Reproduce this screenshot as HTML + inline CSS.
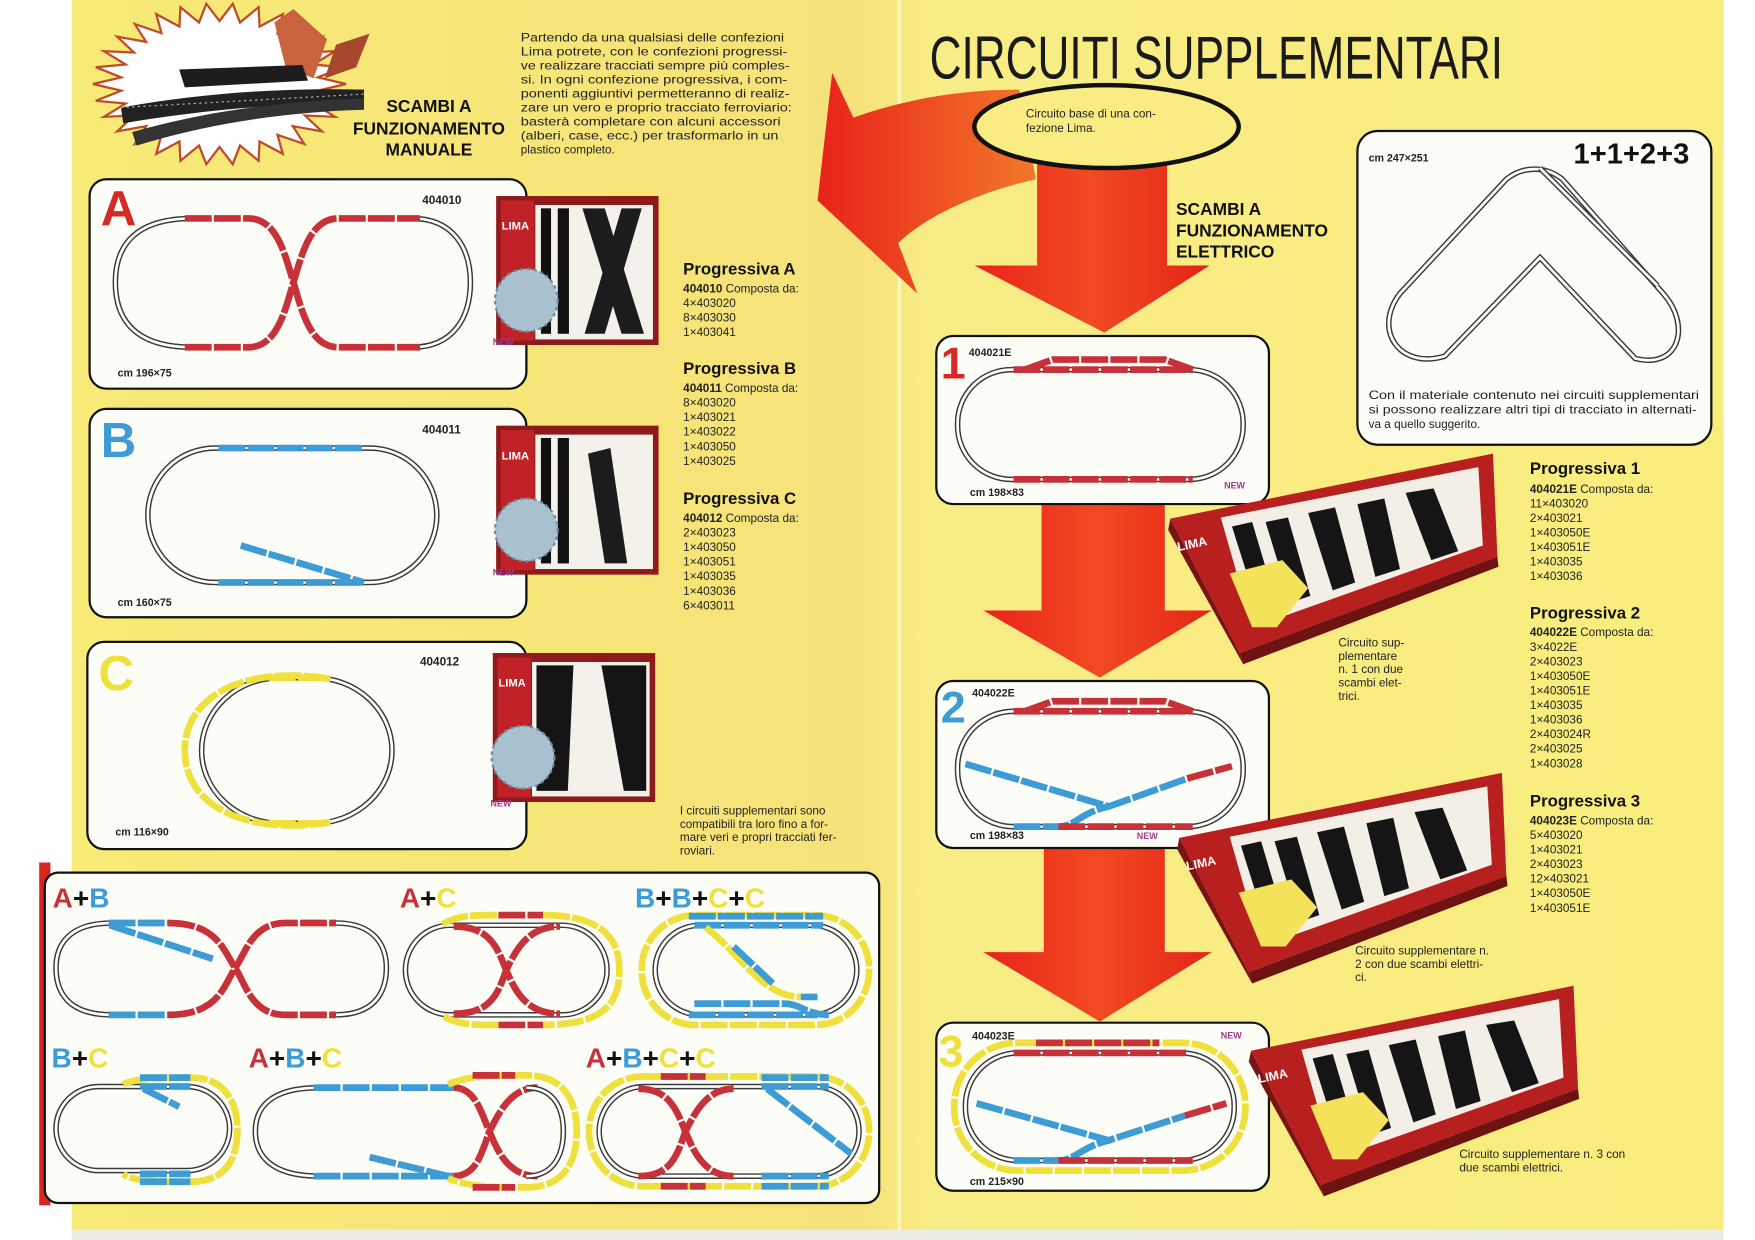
<!DOCTYPE html>
<html><head><meta charset="utf-8">
<style>
html,body{margin:0;padding:0;background:#fff;}
svg{display:block;font-family:"Liberation Sans",sans-serif;}
.g{fill:none;stroke:#3a3a3a;stroke-width:5}
.w{fill:none;stroke:#fff;stroke-width:2.4}
.r{fill:none;stroke:#c7323a;stroke-width:6;stroke-dasharray:24 2}
.b{fill:none;stroke:#3d9bd6;stroke-width:6;stroke-dasharray:24 2}
.y{fill:none;stroke:#efe03c;stroke-width:6;stroke-dasharray:24 2}
.t{font-size:10.5px;fill:#222}
.bo{font-weight:bold}
.box{fill:#fdfdf8;stroke:#111;stroke-width:2}
</style></head><body>
<svg width="1755" height="1240" viewBox="0 0 1567 1107" preserveAspectRatio="none" xmlns="http://www.w3.org/2000/svg">
<defs>
<linearGradient id="yb" x1="0" x2="1" y1="0" y2="0">
<stop offset="0" stop-color="#f7ea76"/><stop offset="0.48" stop-color="#f6e27a"/><stop offset="0.52" stop-color="#f8ec86"/><stop offset="1" stop-color="#f8ed7c"/></linearGradient>
<linearGradient id="ar" x1="0" x2="1" y1="0" y2="0"><stop offset="0" stop-color="#e9231a"/><stop offset="0.5" stop-color="#f14a22"/><stop offset="1" stop-color="#e42418"/></linearGradient>
<linearGradient id="ca" x1="0" x2="1" y1="0" y2="0"><stop offset="0" stop-color="#e8221a"/><stop offset="1" stop-color="#f2782a"/></linearGradient>
<g id="rbx">
<polygon points="1045,463 1333,405 1337,497 1107,583" fill="#b8201f"/>
<polygon points="1107,583 1337,497 1338,506 1110,593" fill="#6e1212"/>
<polygon points="1045,463 1107,583 1110,593 1043,473" fill="#7a1414"/>
<polygon points="1090,462 1320,417 1324,487 1118,560" fill="#f3efe6"/>
<path d="M1100,470 L1118,466 L1140,540 L1124,546 Z M1130,466 L1150,462 L1170,532 L1152,538 Z M1168,458 L1192,453 L1210,520 L1190,527 Z M1212,450 L1236,445 L1250,508 L1228,515 Z M1255,440 L1280,436 L1302,492 L1278,500 Z" fill="#151515"/>
<polygon points="1098,512 1145,500 1168,525 1140,560 1118,560" fill="#f4e25a"/>
<text x="1052" y="492" font-size="11" class="bo" fill="#fff" transform="rotate(-12 1052 492)">LIMA</text>
</g>
</defs>
<rect x="0" y="0" width="1567" height="1107" fill="#fff"/>
<rect x="64" y="0" width="1475" height="1098" fill="url(#yb)"/>
<rect x="64" y="1098" width="1475" height="9" fill="#ecebe4"/>
<line x1="803" y1="0" x2="803" y2="1098" stroke="#fff6b8" stroke-width="3"/>

<polygon id="star" points="" fill="#fff" stroke="#c04a2a" stroke-width="2"/>
<g>
<path d="M292,35 L262,8 L245,20 L255,60 L280,70 Z" fill="#c9623e"/>
<path d="M300,40 L330,30 L318,60 L290,70 Z" fill="#a7472c"/>
<path d="M160,62 L270,58 L275,72 L165,78 Z" fill="#1d1d1d"/>
<path d="M108,96 C170,85 240,78 325,80 L325,92 C240,92 170,100 110,110 Z" fill="#222"/>
<path d="M118,118 C180,100 250,90 325,88 L325,98 C250,100 180,112 122,130 Z" fill="#333"/>
<path d="M108,96 L325,84" stroke="#bbb" stroke-width="1" stroke-dasharray="2 3"/>
</g>
<text x="383" y="100" text-anchor="middle" font-size="15.5" class="bo" fill="#111">SCAMBI A</text>
<text x="383" y="120" text-anchor="middle" font-size="15.5" class="bo" fill="#111">FUNZIONAMENTO</text>
<text x="383" y="139" text-anchor="middle" font-size="15.5" class="bo" fill="#111">MANUALE</text>
<g class="t" font-size="10.5">
<text x="465" y="37" textLength="235" lengthAdjust="spacingAndGlyphs">Partendo da una qualsiasi delle confezioni</text>
<text x="465" y="49.5" textLength="238" lengthAdjust="spacingAndGlyphs">Lima potrete, con le confezioni progressi-</text>
<text x="465" y="62" textLength="240" lengthAdjust="spacingAndGlyphs">ve realizzare tracciati sempre più comples-</text>
<text x="465" y="74.5" textLength="238" lengthAdjust="spacingAndGlyphs">si. In ogni confezione progressiva, i com-</text>
<text x="465" y="87" textLength="240" lengthAdjust="spacingAndGlyphs">ponenti aggiuntivi permetteranno di realiz-</text>
<text x="465" y="99.5" textLength="242" lengthAdjust="spacingAndGlyphs">zare un vero e proprio tracciato ferroviario:</text>
<text x="465" y="112" textLength="232" lengthAdjust="spacingAndGlyphs">basterà completare con alcuni accessori</text>
<text x="465" y="124.5" textLength="230" lengthAdjust="spacingAndGlyphs">(alberi, case, ecc.) per trasformarlo in un</text>
<text x="465" y="137">plastico completo.</text>
</g>

<path d="M762,105 C810,88 860,80 910,80 L925,160 C880,170 830,190 802,217 L819,262 L730,179 L743,65 Z" fill="url(#ca)"/>

<text x="830" y="70" font-size="54" fill="#1a1a1a" textLength="512" lengthAdjust="spacingAndGlyphs">CIRCUITI SUPPLEMENTARI</text>

<polygon points="926,140 1042,140 1042,237 1080,237 986,297 870,237 926,237" fill="url(#ar)"/>
<polygon points="930,450 1040,450 1040,545 1082,545 982,605 878,545 930,545" fill="url(#ar)"/>
<polygon points="932,757 1040,757 1040,850 1082,850 982,912 878,850 932,850" fill="url(#ar)"/>
<ellipse cx="988" cy="113" rx="118" ry="37" fill="#f8ec82" stroke="#111" stroke-width="4"/>
<text x="916" y="105" class="t" font-size="10">Circuito base di una con-</text>
<text x="916" y="118" class="t" font-size="10">fezione Lima.</text>
<text x="1050" y="192" font-size="15.5" class="bo" fill="#111">SCAMBI A</text>
<text x="1050" y="211" font-size="15.5" class="bo" fill="#111">FUNZIONAMENTO</text>
<text x="1050" y="230" font-size="15.5" class="bo" fill="#111">ELETTRICO</text>

<!-- BOX A -->
<rect x="80" y="160" width="390" height="187" rx="15" class="box"/>
<text x="90" y="201" font-size="44" class="bo" fill="#d52a25">A</text>
<text x="377" y="182" font-size="10.5" class="bo" fill="#222">404010</text>
<text x="105" y="336" font-size="9.5" class="bo" fill="#222">cm 196×75</text>
<path class="g" d="M172,195 C118,195 103,222 103,252 C103,283 118,310 172,310"/>
<path class="w" d="M172,195 C118,195 103,222 103,252 C103,283 118,310 172,310"/>
<path class="g" d="M368,195 C405,195 420,222 420,252 C420,283 405,310 368,310"/>
<path class="w" d="M368,195 C405,195 420,222 420,252 C420,283 405,310 368,310"/>
<path class="r" d="M165,195 H222 C248,195 255,230 262,252 C269,275 276,310 302,310 H375"/>
<path class="r" d="M165,310 H222 C248,310 255,275 262,252 C269,230 276,195 302,195 H375"/>

<!-- BOX B -->
<rect x="80" y="365" width="390" height="186" rx="15" class="box"/>
<text x="90" y="408" font-size="44" class="bo" fill="#3d9bd6">B</text>
<text x="377" y="387" font-size="10.5" class="bo" fill="#222">404011</text>
<text x="105" y="541" font-size="9.5" class="bo" fill="#222">cm 160×75</text>
<rect class="g" x="132" y="400" width="258" height="120" rx="60" ry="60"/>
<rect class="w" x="132" y="400" width="258" height="120" rx="60" ry="60"/>
<path class="b" d="M195,400 H325"/><path class="b" d="M195,520 H325"/><path class="b" d="M215,487 L325,520"/>

<!-- BOX C -->
<rect x="78" y="573" width="392" height="185" rx="15" class="box"/>
<text x="88" y="616" font-size="44" class="bo" fill="#efe03c">C</text>
<text x="375" y="594" font-size="10.5" class="bo" fill="#222">404012</text>
<text x="103" y="746" font-size="9.5" class="bo" fill="#222">cm 116×90</text>
<rect class="g" x="180" y="605" width="170" height="130" rx="70" ry="65"/>
<rect class="w" x="180" y="605" width="170" height="130" rx="70" ry="65"/>
<path class="y" d="M295,606 C220,594 165,620 165,670 C165,720 220,746 295,734"/>
<path class="y" d="M240,605 H292"/><path class="y" d="M240,735 H292"/>

<!-- product boxes left -->
<g>
<rect x="443" y="175" width="145" height="133" fill="#8e1a1c"/>
<rect x="447" y="179" width="30" height="125" fill="#c02228"/>
<text x="448" y="205" font-size="10" class="bo" fill="#fff">LIMA</text>
<rect x="478" y="183" width="105" height="120" fill="#f4f1ea"/>
<rect x="483" y="186" width="9" height="112" fill="#111"/><rect x="498" y="186" width="10" height="112" fill="#111"/>
<path d="M520,186 L540,186 L575,298 L555,298 Z" fill="#1c1c1c"/><path d="M555,186 L573,186 L540,298 L522,298 Z" fill="#1c1c1c"/>
<circle cx="470" cy="268" r="28" fill="#a9c0cf" stroke="#6d8aa0" stroke-width="2" stroke-dasharray="3 3"/>
</g>
<g transform="translate(0,205)">
<rect x="443" y="175" width="145" height="133" fill="#8e1a1c"/>
<rect x="447" y="179" width="30" height="125" fill="#c02228"/>
<text x="448" y="205" font-size="10" class="bo" fill="#fff">LIMA</text>
<rect x="478" y="183" width="105" height="120" fill="#f4f1ea"/>
<rect x="483" y="186" width="9" height="112" fill="#111"/><rect x="498" y="186" width="10" height="112" fill="#111"/>
<path d="M525,200 L545,195 L560,298 L540,298 Z" fill="#1c1c1c"/>
<circle cx="470" cy="268" r="28" fill="#a9c0cf" stroke="#6d8aa0" stroke-width="2" stroke-dasharray="3 3"/>
</g>
<g transform="translate(-3,408)">
<rect x="443" y="175" width="145" height="133" fill="#8e1a1c"/>
<rect x="447" y="179" width="30" height="125" fill="#c02228"/>
<text x="448" y="205" font-size="10" class="bo" fill="#fff">LIMA</text>
<rect x="478" y="183" width="105" height="120" fill="#f4f1ea"/>
<path d="M482,186 L515,186 L510,298 L482,298 Z" fill="#151515"/><path d="M540,186 L580,186 L580,298 L560,298 Z" fill="#151515"/>
<circle cx="470" cy="268" r="28" fill="#a9c0cf" stroke="#6d8aa0" stroke-width="2" stroke-dasharray="3 3"/>
</g>
<text x="440" y="308" font-size="8" fill="#a03a8a" class="bo">NEW</text>
<text x="440" y="514" font-size="8" fill="#a03a8a" class="bo">NEW</text>
<text x="438" y="720" font-size="8" fill="#a03a8a" class="bo">NEW</text>

<g class="t">
<text x="610" y="245" font-size="15" class="bo" fill="#111">Progressiva A</text>
<text x="610" y="261"><tspan class="bo">404010</tspan> Composta da:</text>
<text x="610" y="274">4×403020</text><text x="610" y="287">8×403030</text><text x="610" y="300">1×403041</text>
<text x="610" y="334" font-size="15" class="bo" fill="#111">Progressiva B</text>
<text x="610" y="350"><tspan class="bo">404011</tspan> Composta da:</text>
<text x="610" y="363">8×403020</text><text x="610" y="376">1×403021</text><text x="610" y="389">1×403022</text><text x="610" y="402">1×403050</text><text x="610" y="415">1×403025</text>
<text x="610" y="450" font-size="15" class="bo" fill="#111">Progressiva C</text>
<text x="610" y="466"><tspan class="bo">404012</tspan> Composta da:</text>
<text x="610" y="479">2×403023</text><text x="610" y="492">1×403050</text><text x="610" y="505">1×403051</text><text x="610" y="518">1×403035</text><text x="610" y="531">1×403036</text><text x="610" y="544">6×403011</text>
<text x="607" y="727">I circuiti supplementari sono</text>
<text x="607" y="739">compatibili tra loro fino a for-</text>
<text x="607" y="751">mare veri e propri tracciati fer-</text>
<text x="607" y="763">roviari.</text>
</g>

<!-- bottom combination box -->
<rect x="35" y="770" width="10" height="306" fill="#d8261e"/>
<rect x="40" y="779" width="745" height="295" rx="12" class="box"/>
<g font-size="25" class="bo">
<text x="47" y="810"><tspan fill="#c7323a">A</tspan><tspan fill="#111">+</tspan><tspan fill="#3d9bd6">B</tspan></text>
<text x="357" y="810"><tspan fill="#c7323a">A</tspan><tspan fill="#111">+</tspan><tspan fill="#efe03c">C</tspan></text>
<text x="567" y="810"><tspan fill="#3d9bd6">B</tspan><tspan fill="#111">+</tspan><tspan fill="#3d9bd6">B</tspan><tspan fill="#111">+</tspan><tspan fill="#efe03c">C</tspan><tspan fill="#111">+</tspan><tspan fill="#efe03c">C</tspan></text>
<text x="46" y="953"><tspan fill="#3d9bd6">B</tspan><tspan fill="#111">+</tspan><tspan fill="#efe03c">C</tspan></text>
<text x="222" y="953"><tspan fill="#c7323a">A</tspan><tspan fill="#111">+</tspan><tspan fill="#3d9bd6">B</tspan><tspan fill="#111">+</tspan><tspan fill="#efe03c">C</tspan></text>
<text x="523" y="953"><tspan fill="#c7323a">A</tspan><tspan fill="#111">+</tspan><tspan fill="#3d9bd6">B</tspan><tspan fill="#111">+</tspan><tspan fill="#efe03c">C</tspan><tspan fill="#111">+</tspan><tspan fill="#efe03c">C</tspan></text>
</g>
<path class="g" d="M100,824 C60,824 50,845 50,864 C50,885 60,906 100,906"/>
<path class="w" d="M100,824 C60,824 50,845 50,864 C50,885 60,906 100,906"/>
<path class="g" d="M300,824 C335,824 345,845 345,864 C345,885 335,906 300,906"/>
<path class="w" d="M300,824 C335,824 345,845 345,864 C345,885 335,906 300,906"/>
<path class="b" d="M97,824 H150"/><path class="b" d="M97,906 H150"/><path class="b" d="M98,826 L190,856"/>
<path class="r" d="M150,824 C195,824 200,850 210,864 C220,880 225,906 255,906 H300"/>
<path class="r" d="M150,906 C195,906 200,880 210,864 C220,850 225,824 255,824 H300"/>
<rect class="g" x="362" y="826" width="180" height="80" rx="40"/><rect class="w" x="362" y="826" width="180" height="80" rx="40"/>
<path class="r" d="M405,827 C440,827 445,850 452,866 C460,885 470,905 500,905"/>
<path class="r" d="M405,905 C440,905 445,885 452,866 C460,850 470,827 500,827"/>
<path class="r" d="M445,817 H485"/><path class="r" d="M445,915 H485"/>
<path class="y" d="M395,825 C410,817 420,817 445,817 M485,817 C540,817 553,840 553,866 C553,895 540,915 485,915 M445,915 C420,915 410,915 395,907"/>
<rect class="g" x="585" y="826" width="180" height="80" rx="40"/><rect class="w" x="585" y="826" width="180" height="80" rx="40"/>
<rect class="y" x="573" y="817" width="203" height="98" rx="48"/>
<path class="b" d="M615,818 H735"/><path class="b" d="M620,826 H735"/>
<path class="y" d="M630,828 C660,850 680,890 715,890"/><path class="b" d="M655,845 L690,878"/><path class="b" d="M715,890 H730"/>
<path class="b" d="M620,896 H700 C715,896 720,906 740,906"/><path class="b" d="M615,906 H730"/>
<rect class="g" x="50" y="970" width="155" height="75" rx="38"/><rect class="w" x="50" y="970" width="155" height="75" rx="38"/>
<path class="y" d="M110,968 C120,963 140,962 170,962 C205,962 212,990 212,1008 C212,1030 205,1055 170,1055 C140,1055 120,1055 110,1048"/>
<path class="b" d="M125,962 H170"/><path class="b" d="M125,970 H170"/><path class="b" d="M125,1048 H170"/><path class="b" d="M125,1055 H170"/>
<path class="b" d="M128,972 L160,988"/>
<path class="g" d="M285,971 C240,971 228,990 228,1010 C228,1030 240,1050 285,1050"/><path class="w" d="M285,971 C240,971 228,990 228,1010 C228,1030 240,1050 285,1050"/>
<path class="b" d="M280,971 H405"/><path class="b" d="M280,1050 H405"/><path class="b" d="M330,1033 L400,1050"/>
<path class="r" d="M405,971 C425,971 430,995 437,1010 C445,1030 455,1050 480,1050"/>
<path class="r" d="M405,1050 C425,1050 430,1030 437,1010 C445,995 455,971 480,971"/>
<path class="g" d="M470,971 C495,971 503,990 503,1010 C503,1030 495,1050 470,1050"/><path class="w" d="M470,971 C495,971 503,990 503,1010 C503,1030 495,1050 470,1050"/>
<path class="y" d="M400,968 C420,960 440,960 470,960 C505,960 515,985 515,1010 C515,1035 505,1060 470,1060 C440,1060 420,1060 400,1052"/>
<path class="r" d="M422,960 H460"/><path class="r" d="M422,1060 H460"/>
<rect class="g" x="535" y="970" width="232" height="80" rx="40"/><rect class="w" x="535" y="970" width="232" height="80" rx="40"/>
<rect class="y" x="526" y="961" width="250" height="98" rx="48"/>
<path class="r" d="M570,972 C600,972 605,995 612,1010 C620,1030 630,1050 655,1050"/>
<path class="r" d="M570,1050 C600,1050 605,1030 612,1010 C620,995 630,972 655,972"/>
<path class="r" d="M590,961 H630"/><path class="r" d="M590,1059 H630"/>
<path class="b" d="M680,962 H740"/><path class="b" d="M680,970 H740"/><path class="b" d="M680,1050 H740"/><path class="b" d="M680,1059 H740"/>
<path class="b" d="M685,972 L760,1030"/>

<!-- RIGHT boxes -->
<rect x="836" y="300" width="297" height="150" rx="15" class="box"/>
<text x="840" y="338" font-size="40" class="bo" fill="#d52a25">1</text>
<text x="865" y="318" font-size="9.5" class="bo" fill="#222">404021E</text>
<text x="866" y="443" font-size="9.5" class="bo" fill="#222">cm 198×83</text>
<text x="1093" y="436" font-size="8" fill="#a03a8a" class="bo">NEW</text>
<rect class="g" x="855" y="330" width="255" height="98" rx="48"/><rect class="w" x="855" y="330" width="255" height="98" rx="48"/>
<path class="r" d="M905,330 H1065"/><path class="r" d="M915,330 L940,321 H1040 L1065,330"/><path class="r" d="M905,428 H1065"/>

<rect x="836" y="608" width="297" height="149" rx="15" class="box"/>
<text x="840" y="645" font-size="40" class="bo" fill="#3d9bd6">2</text>
<text x="868" y="622" font-size="9.5" class="bo" fill="#222">404022E</text>
<text x="866" y="749" font-size="9.5" class="bo" fill="#222">cm 198×83</text>
<text x="1015" y="749" font-size="8" fill="#a03a8a" class="bo">NEW</text>
<rect class="g" x="855" y="635" width="255" height="103" rx="50"/><rect class="w" x="855" y="635" width="255" height="103" rx="50"/>
<path class="r" d="M905,635 H1065"/><path class="r" d="M915,635 L940,626 H1040 L1065,635"/>
<path class="b" d="M862,682 L990,720 L1060,695"/><path class="r" d="M1060,695 L1100,684"/>
<path class="b" d="M905,738 H945 C960,738 965,725 990,720"/><path class="r" d="M945,738 H1065"/>

<rect x="836" y="913" width="297" height="150" rx="15" class="box"/>
<text x="838" y="952" font-size="40" class="bo" fill="#efe03c">3</text>
<text x="868" y="928" font-size="9.5" class="bo" fill="#222">404023E</text>
<text x="1090" y="927" font-size="8" fill="#a03a8a" class="bo">NEW</text>
<rect class="y" x="852" y="931" width="260" height="114" rx="56"/>
<rect class="g" x="862" y="940" width="240" height="96" rx="47"/><rect class="w" x="862" y="940" width="240" height="96" rx="47"/>
<path class="r" d="M905,940 H1060"/><path class="r" d="M925,931 H1035"/>
<path class="b" d="M872,985 L990,1018 L1058,996"/><path class="r" d="M1058,996 L1095,985"/>
<path class="b" d="M905,1036 H945 C960,1036 965,1024 990,1018"/><path class="r" d="M945,1036 H1065"/>
<text x="866" y="1058" font-size="9.5" class="bo" fill="#222">cm 215×90</text>

<!-- 1+1+2+3 -->
<rect x="1212" y="117" width="316" height="280" rx="18" class="box"/>
<text x="1222" y="144" font-size="9.5" class="bo" fill="#222">cm 247×251</text>
<text x="1405" y="146" font-size="26" class="bo" fill="#111">1+1+2+3</text>
<path class="g" d="M1345,160 C1360,148 1380,148 1395,160 L1485,262 C1510,290 1500,330 1460,320 L1375,230 L1290,318 C1250,330 1225,295 1250,262 Z"/>
<path class="w" d="M1345,160 C1360,148 1380,148 1395,160 L1485,262 C1510,290 1500,330 1460,320 L1375,230 L1290,318 C1250,330 1225,295 1250,262 Z"/>
<path class="g" d="M1375,150 L1480,255"/><path class="w" d="M1375,150 L1480,255"/>
<g class="t" font-size="10">
<text x="1222" y="356" textLength="295" lengthAdjust="spacingAndGlyphs">Con il materiale contenuto nei circuiti supplementari</text>
<text x="1222" y="369" textLength="293" lengthAdjust="spacingAndGlyphs">si possono realizzare altri tipi di tracciato in alternati-</text>
<text x="1222" y="382">va a quello suggerito.</text>
</g>

<!-- right product boxes -->
<use href="#rbx"/>
<use href="#rbx" transform="translate(8,285)"/>
<use href="#rbx" transform="translate(72,475)"/>

<g class="t">
<text x="1366" y="423" font-size="15" class="bo" fill="#111">Progressiva 1</text>
<text x="1366" y="440"><tspan class="bo">404021E</tspan> Composta da:</text>
<text x="1366" y="453">11×403020</text><text x="1366" y="466">2×403021</text><text x="1366" y="479">1×403050E</text><text x="1366" y="492">1×403051E</text><text x="1366" y="505">1×403035</text><text x="1366" y="518">1×403036</text>
<text x="1366" y="552" font-size="15" class="bo" fill="#111">Progressiva 2</text>
<text x="1366" y="568"><tspan class="bo">404022E</tspan> Composta da:</text>
<text x="1366" y="581">3×4022E</text><text x="1366" y="594">2×403023</text><text x="1366" y="607">1×403050E</text><text x="1366" y="620">1×403051E</text><text x="1366" y="633">1×403035</text><text x="1366" y="646">1×403036</text><text x="1366" y="659">2×403024R</text><text x="1366" y="672">2×403025</text><text x="1366" y="685">1×403028</text>
<text x="1366" y="720" font-size="15" class="bo" fill="#111">Progressiva 3</text>
<text x="1366" y="736"><tspan class="bo">404023E</tspan> Composta da:</text>
<text x="1366" y="749">5×403020</text><text x="1366" y="762">1×403021</text><text x="1366" y="775">2×403023</text><text x="1366" y="788">12×403021</text><text x="1366" y="801">1×403050E</text><text x="1366" y="814">1×403051E</text>
<text x="1195" y="577">Circuito sup-</text><text x="1195" y="589">plementare</text><text x="1195" y="601">n. 1 con due</text><text x="1195" y="613">scambi elet-</text><text x="1195" y="625">trici.</text>
<text x="1210" y="852">Circuito supplementare n.</text><text x="1210" y="864">2 con due scambi elettri-</text><text x="1210" y="876">ci.</text>
<text x="1303" y="1034">Circuito supplementare n. 3 con</text><text x="1303" y="1046">due scambi elettrici.</text>
</g>
<script>
(function(){var p=[],n=30,cx=196,cy=75,rx=113,ry=72;for(var i=0;i<2*n;i++){var a=i*Math.PI/n,f=i%2?0.78:1;p.push((cx+Math.cos(a)*rx*f).toFixed(1)+','+(cy+Math.sin(a)*ry*f).toFixed(1));}document.getElementById('star').setAttribute('points',p.join(' '));})();
</script>
</svg>
</body></html>
